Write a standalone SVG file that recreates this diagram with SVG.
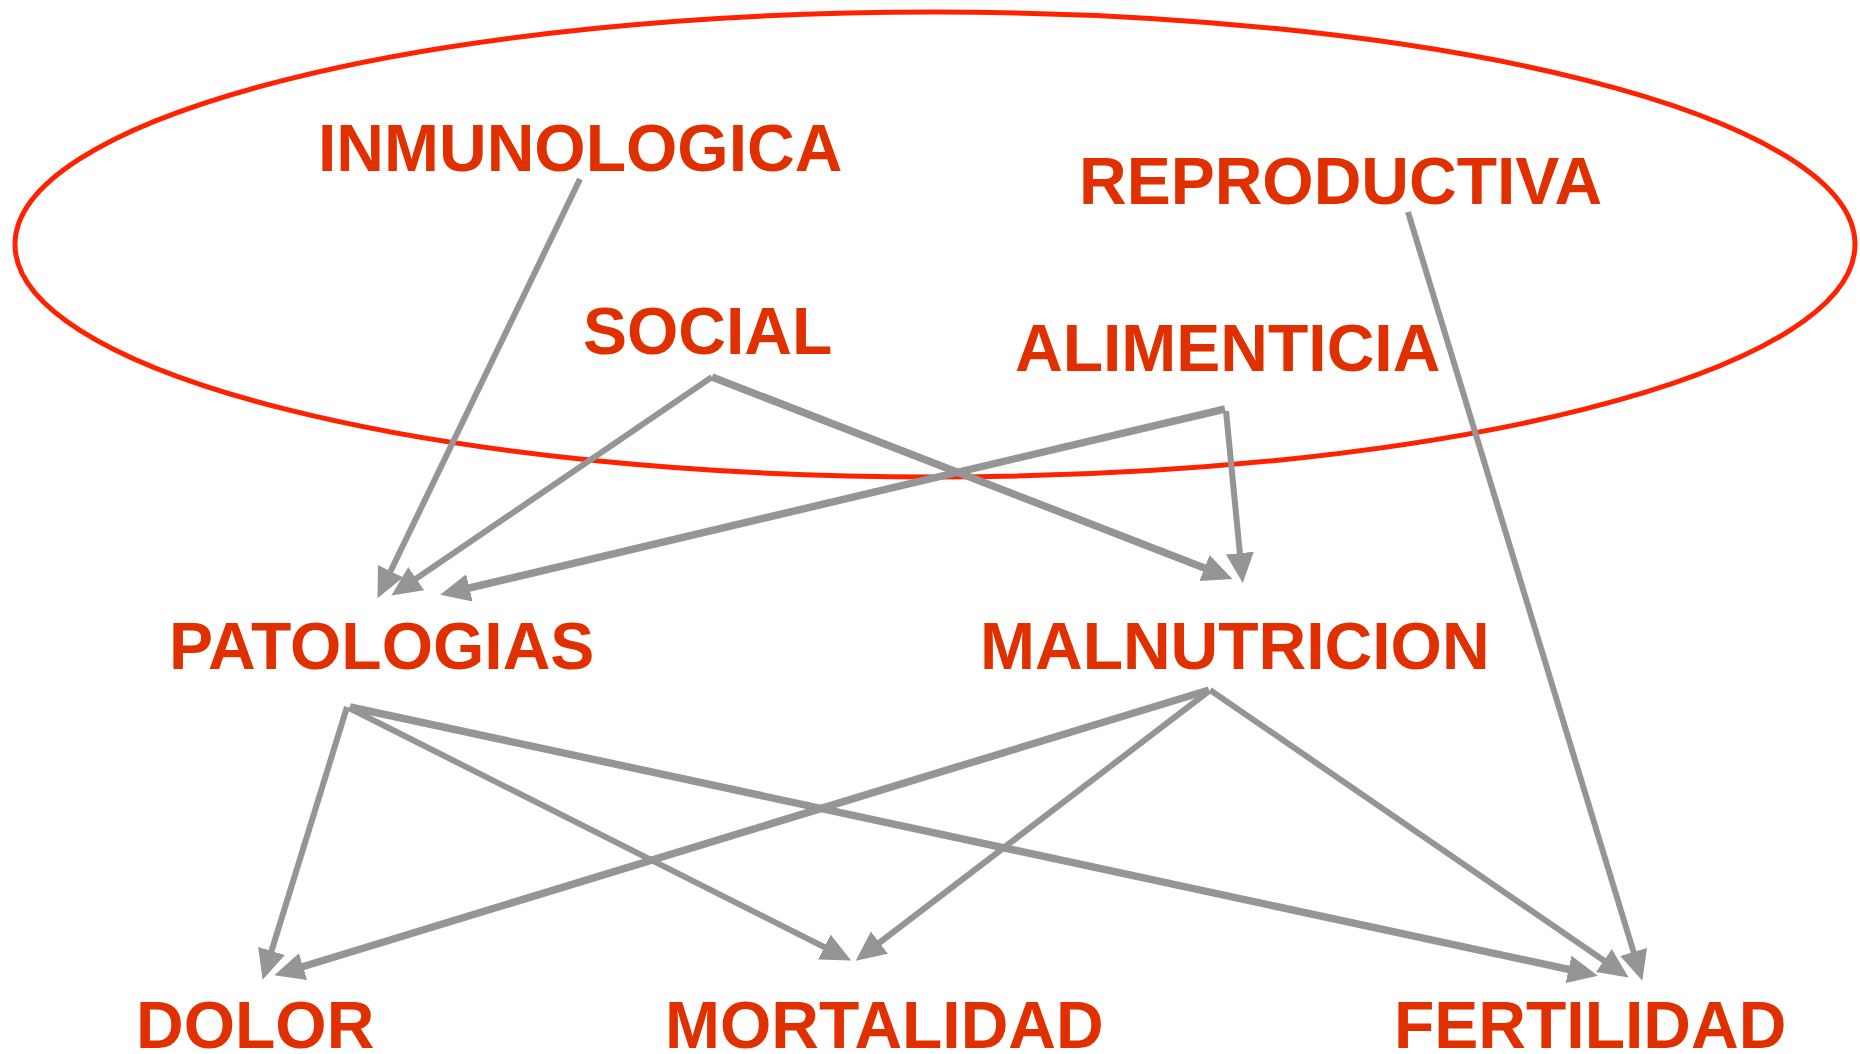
<svg xmlns="http://www.w3.org/2000/svg" width="1860" height="1054" viewBox="0 0 1860 1054">
  <defs>
    <marker id="ah" markerUnits="userSpaceOnUse" markerWidth="30" markerHeight="28" viewBox="0 0 30 28" refX="22" refY="14" orient="auto">
      <path d="M0,0 L30,14 L0,28 z" fill="#959595"/>
    </marker>
    <style>
      .lbl { font-family: "Liberation Sans", Arial, sans-serif; font-weight: bold; font-size: 66px; fill: #e03000; }
      .c { stroke: #959595; stroke-width: 6; fill: none; marker-end: url(#ah); }
      .t { stroke-width: 7.5; }
    </style>
  </defs>
  <rect width="1860" height="1054" fill="#ffffff"/>
  <ellipse id="scope" cx="935" cy="244.5" rx="920" ry="232.5" fill="none" stroke="#ff2200" stroke-width="5"/>
  <g id="connectors">
    <line class="c" x1="580" y1="179" x2="381" y2="591"/>
    <line class="c" x1="712" y1="377" x2="398" y2="591"/>
    <line class="c t" x1="712" y1="377" x2="1225" y2="576"/>
    <line class="c t" x1="1225" y1="409" x2="448" y2="593"/>
    <line class="c" x1="1226" y1="411" x2="1242" y2="575"/>
    <line class="c" x1="1408" y1="212" x2="1640" y2="973"/>
    <line class="c" x1="347" y1="707" x2="265" y2="972"/>
    <line class="c" x1="349" y1="708" x2="844" y2="957"/>
    <line class="c t" x1="350" y1="707" x2="1590" y2="974"/>
    <line class="c t" x1="1209" y1="690" x2="282" y2="973"/>
    <line class="c" x1="1209" y1="691" x2="862" y2="956"/>
    <line class="c" x1="1210" y1="690" x2="1622" y2="973"/>
  </g>
  <g id="inmunologica"><text class="lbl" x="318" y="171">INMUNOLOGICA</text></g>
  <g id="reproductiva"><text class="lbl" x="1079" y="204">REPRODUCTIVA</text></g>
  <g id="social"><text class="lbl" x="583" y="354">SOCIAL</text></g>
  <g id="alimenticia"><text class="lbl" x="1015" y="371">ALIMENTICIA</text></g>
  <g id="patologias"><text class="lbl" x="169" y="669">PATOLOGIAS</text></g>
  <g id="malnutricion"><text class="lbl" x="980" y="669">MALNUTRICION</text></g>
  <g id="dolor"><text class="lbl" x="136" y="1048">DOLOR</text></g>
  <g id="mortalidad"><text class="lbl" x="665" y="1048">MORTALIDAD</text></g>
  <g id="fertilidad"><text class="lbl" x="1394" y="1048">FERTILIDAD</text></g>
</svg>
